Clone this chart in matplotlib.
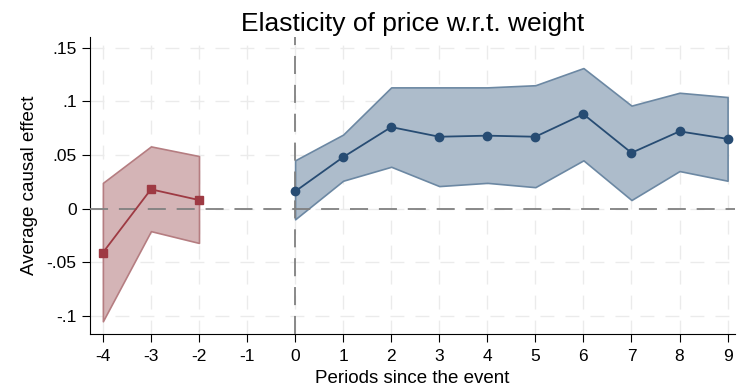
import numpy as np
import matplotlib
matplotlib.use('Agg')
import matplotlib.pyplot as plt

plt.rcParams['font.family'] = ['Liberation Sans', 'DejaVu Sans']
plt.rcParams['axes.unicode_minus'] = False

# pre-event periods
pre_t = [-4, -3, -2]
pre_est = [-0.041, 0.018, 0.008]
pre_lo = [-0.105, -0.021, -0.032]
pre_hi = [0.024, 0.058, 0.049]

# post-event periods
post_t = [0, 1, 2, 3, 4, 5, 6, 7, 8, 9]
post_est = [0.016, 0.048, 0.076, 0.067, 0.068, 0.067, 0.088, 0.052, 0.072, 0.065]
post_lo = [-0.010, 0.026, 0.039, 0.021, 0.024, 0.020, 0.045, 0.008, 0.035, 0.026]
post_hi = [0.045, 0.069, 0.113, 0.113, 0.113, 0.115, 0.131, 0.096, 0.108, 0.104]

yticks = [-0.1, -0.05, 0, 0.05, 0.1, 0.15]
ytick_labels = ['-.1', '-.05', '0', '.05', '.1', '.15']
xticks = list(range(-4, 10))

fig = plt.figure(figsize=(7.37, 3.89), dpi=100)
ax = fig.add_axes([0.122, 0.141, 0.875, 0.764])

red_fill = '#d4b4b6'
red_edge = '#b57d81'
red_mark = '#9e3a43'
blue_fill = '#adbccb'
blue_edge = '#6c88a3'
blue_mark = '#274c73'

# light dashed grid
for x in xticks:
    ax.axvline(x, color='#ebebeb', lw=1, ls=(0, (10, 8)), zorder=0)
for y in yticks:
    ax.axhline(y, color='#ebebeb', lw=1, ls=(0, (10, 8)), zorder=0)

ax.fill_between(pre_t, pre_lo, pre_hi, facecolor=red_fill, edgecolor=red_edge, lw=1.2, zorder=2)
ax.plot(pre_t, pre_est, color=red_mark, lw=1.3, marker='s', ms=6, zorder=4)

ax.fill_between(post_t, post_lo, post_hi, facecolor=blue_fill, edgecolor=blue_edge, lw=1.2, zorder=2)
ax.plot(post_t, post_est, color=blue_mark, lw=1.3, marker='o', ms=6, zorder=4)

ax.axhline(0, color='#808080', lw=1.3, ls=(0, (10, 6)), zorder=3)
ax.axvline(0, color='#808080', lw=1.3, ls=(0, (10, 6)), zorder=3)

ax.set_xlim(-4.27, 9.15)
ax.set_ylim(-0.117, 0.160)
ax.set_xticks(xticks)
ax.set_yticks(yticks)
ax.set_yticklabels(ytick_labels)
ax.tick_params(axis='both', labelsize=12.5, length=6, color='black')
ax.tick_params(axis='x', pad=5)
for s in ['top', 'right']:
    ax.spines[s].set_visible(False)
ax.spines['left'].set_color('black')
ax.spines['bottom'].set_color('black')

ax.set_title('Elasticity of price w.r.t. weight', fontsize=19, pad=4)
ax.set_xlabel('Periods since the event', fontsize=13.5, labelpad=4)
ax.set_ylabel('Average causal effect', fontsize=13.5, labelpad=6)

plt.savefig('out.png')
